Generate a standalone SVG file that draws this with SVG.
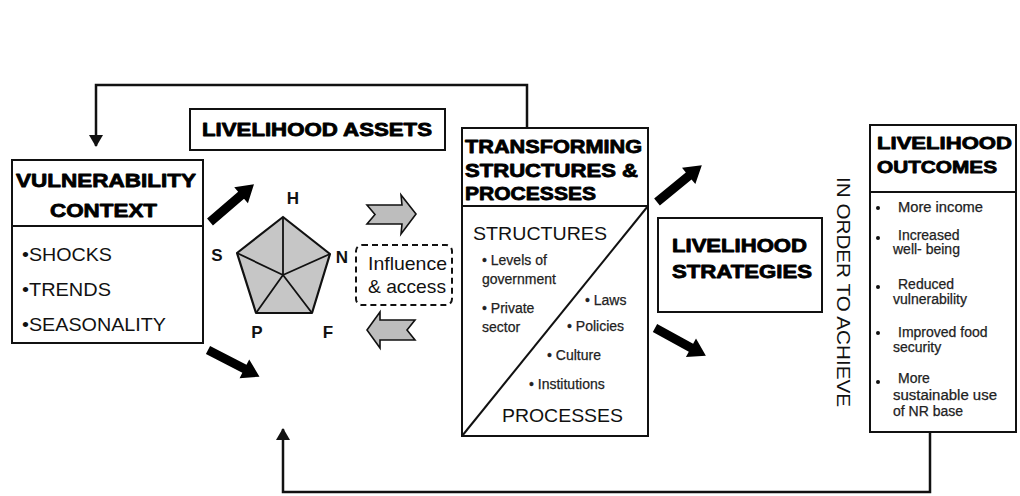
<svg xmlns="http://www.w3.org/2000/svg" width="1020" height="496" viewBox="0 0 1020 496">
<style>
.box{fill:#fff;stroke:#111;stroke-width:2}
.ln{fill:none;stroke:#111;stroke-width:2}
.hd{font-family:"Liberation Sans",Arial,sans-serif;font-weight:bold;fill:#000;stroke:#000;stroke-width:0.8;stroke-linejoin:round}
.tx{font-family:"Liberation Sans",Arial,sans-serif;fill:#111}
.sm{font-family:"Liberation Sans",Arial,sans-serif;font-size:14px;fill:#222;stroke:#222;stroke-width:0.25}
.lab{font-family:"Liberation Sans",Arial,sans-serif;font-weight:bold;font-size:17px;fill:#111}
.fb{fill:none;stroke:#111;stroke-width:2.5}
.gray{fill:#bdbdbd;stroke:#111;stroke-width:1.6;stroke-linejoin:miter}
</style>
<defs>
<marker id="ah" viewBox="0 0 12 14" refX="11" refY="7" markerWidth="12" markerHeight="14" markerUnits="userSpaceOnUse" orient="auto">
<path d="M0,0 L12,7 L0,14 Z" fill="#111"/>
</marker>
<polygon id="barrow" points="0,-4.5 41,-4.5 41,-10.5 58,0 41,10.5 41,4.5 0,4.5" fill="#000"/>
</defs>

<g id="connectors">
<path class="fb" d="M527,128 V85 H96 V146" marker-end="url(#ah)"/>
<path class="fb" d="M930,432 V492 H283 V429" marker-end="url(#ah)"/>
<use href="#barrow" transform="translate(210,222) rotate(-40.7)"/>
<use href="#barrow" transform="translate(208,350) rotate(27.4)"/>
<use href="#barrow" transform="translate(657,202) rotate(-39.4)"/>
<use href="#barrow" transform="translate(655,328) rotate(28.7)"/>
<polygon class="gray" points="367,205 402,205 401,195 416,214 401,234 402,224 367,224 375,214.5"/>
<polygon class="gray" points="367,330 380,312 380,320 415,320 407,330 415,340 380,340 380,348"/>
</g>

<g id="vulnerability">
<rect class="box" x="12" y="160" width="191" height="183"/>
<line class="ln" x1="12" y1="226" x2="203" y2="226"/>
<text class="hd" x="16" y="187" font-size="19" textLength="180" lengthAdjust="spacingAndGlyphs">VULNERABILITY</text>
<text class="hd" x="50" y="217" font-size="19" textLength="107" lengthAdjust="spacingAndGlyphs">CONTEXT</text>
<text class="tx" x="22" y="261" font-size="19" textLength="90" lengthAdjust="spacingAndGlyphs">•SHOCKS</text>
<text class="tx" x="22" y="296" font-size="19" textLength="89" lengthAdjust="spacingAndGlyphs">•TRENDS</text>
<text class="tx" x="22" y="331" font-size="19" textLength="144" lengthAdjust="spacingAndGlyphs">•SEASONALITY</text>
</g>

<g id="assets">
<rect class="box" x="190" y="109" width="255" height="41"/>
<text class="hd" x="202" y="136" font-size="18" textLength="230" lengthAdjust="spacingAndGlyphs">LIVELIHOOD ASSETS</text>
</g>

<g id="pentagon">
<polygon points="283,217 330,254 312,313 256,313 237,253" fill="#c6c6c6" stroke="#111" stroke-width="2.2" stroke-linejoin="round"/>
<path d="M283,275 L283,217 M283,275 L330,254 M283,275 L312,313 M283,275 L256,313 M283,275 L237,253" stroke="#111" stroke-width="1.8" fill="none"/>
<text class="lab" x="293" y="204" text-anchor="middle">H</text>
<text class="lab" x="342" y="263" text-anchor="middle">N</text>
<text class="lab" x="328" y="338" text-anchor="middle">F</text>
<text class="lab" x="257" y="338" text-anchor="middle">P</text>
<text class="lab" x="217" y="261" text-anchor="middle">S</text>
</g>

<g id="influence">
<rect x="356" y="245" width="96" height="60" rx="6" fill="#fff" stroke="#111" stroke-width="2" stroke-dasharray="6,4"/>
<text class="tx" x="368" y="270" font-size="18.5" textLength="79" lengthAdjust="spacingAndGlyphs">Influence</text>
<text class="tx" x="368" y="293" font-size="18.5" textLength="78" lengthAdjust="spacingAndGlyphs">&amp; access</text>
</g>

<g id="transforming">
<rect class="box" x="462" y="128" width="186" height="78"/>
<rect class="box" x="462" y="206" width="186" height="230"/>
<line class="ln" x1="462" y1="436" x2="648" y2="206"/>
<text class="hd" x="465" y="153" font-size="18" textLength="177" lengthAdjust="spacingAndGlyphs">TRANSFORMING</text>
<text class="hd" x="465" y="177" font-size="18" textLength="173" lengthAdjust="spacingAndGlyphs">STRUCTURES &amp;</text>
<text class="hd" x="465" y="200" font-size="18" textLength="131" lengthAdjust="spacingAndGlyphs">PROCESSES</text>
<text class="tx" x="473" y="240" font-size="19" textLength="134" lengthAdjust="spacingAndGlyphs">STRUCTURES</text>
<text class="sm" x="482" y="265">• Levels of</text>
<text class="sm" x="482" y="284">government</text>
<text class="sm" x="482" y="313">• Private</text>
<text class="sm" x="482" y="332">sector</text>
<text class="sm" x="585" y="305">• Laws</text>
<text class="sm" x="567" y="331">• Policies</text>
<text class="sm" x="547" y="360">• Culture</text>
<text class="sm" x="529" y="389">• Institutions</text>
<text class="tx" x="502" y="422" font-size="19" textLength="121" lengthAdjust="spacingAndGlyphs">PROCESSES</text>
</g>

<g id="strategies">
<rect class="box" x="658" y="218" width="164" height="94"/>
<text class="hd" x="672" y="252" font-size="18" textLength="135" lengthAdjust="spacingAndGlyphs">LIVELIHOOD</text>
<text class="hd" x="672" y="278" font-size="18" textLength="140" lengthAdjust="spacingAndGlyphs">STRATEGIES</text>
</g>

<g id="achieve">
<text class="tx" transform="translate(837,292) rotate(90)" x="0" y="0" font-size="18" text-anchor="middle" textLength="230" lengthAdjust="spacingAndGlyphs">IN ORDER TO ACHIEVE</text>
</g>

<g id="outcomes">
<rect class="box" x="870" y="125" width="146" height="307"/>
<line class="ln" x1="870" y1="192" x2="1016" y2="192"/>
<text class="hd" x="877" y="149" font-size="17" textLength="135" lengthAdjust="spacingAndGlyphs">LIVELIHOOD</text>
<text class="hd" x="877" y="173" font-size="17" textLength="120" lengthAdjust="spacingAndGlyphs">OUTCOMES</text>
<g fill="#111">
<circle cx="878" cy="208" r="2"/>
<circle cx="878" cy="238" r="2"/>
<circle cx="878" cy="287" r="2"/>
<circle cx="878" cy="333" r="2"/>
<circle cx="878" cy="382" r="2"/>
</g>
<text class="sm" x="898" y="212" textLength="85" lengthAdjust="spacingAndGlyphs">More income</text>
<text class="sm" x="898" y="240">Increased</text>
<text class="sm" x="893" y="254">well- being</text>
<text class="sm" x="898" y="289">Reduced</text>
<text class="sm" x="893" y="304">vulnerability</text>
<text class="sm" x="898" y="337">Improved food</text>
<text class="sm" x="893" y="352">security</text>
<text class="sm" x="898" y="383">More</text>
<text class="sm" x="893" y="400" textLength="104" lengthAdjust="spacingAndGlyphs">sustainable use</text>
<text class="sm" x="893" y="416">of NR base</text>
</g>
</svg>
